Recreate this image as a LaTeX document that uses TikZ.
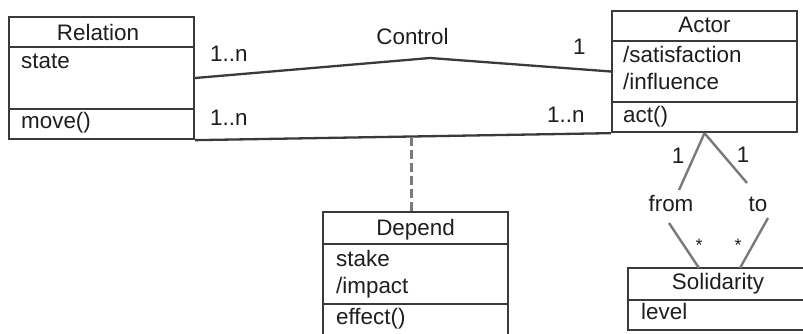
\documentclass[tikz,border=0pt]{standalone}
\usepackage{fontspec}
\setmainfont{Liberation Sans}
\usetikzlibrary{calc}
\definecolor{boxline}{HTML}{3A3A3A}
\definecolor{linkline}{HTML}{7A7A7A}
\definecolor{ink}{HTML}{1E1E1E}
\begin{document}
\begin{tikzpicture}[x=1pt,y=-1pt,
  umlbox/.style={draw=boxline,line width=2.3pt,rectangle,inner sep=0pt,minimum width=185pt},
  sepline/.style={draw=boxline,line width=2.3pt},
  assoc/.style={draw=boxline,line width=2.3pt},
  link/.style={draw=linkline,line width=2.4pt},
  txt/.style={inner sep=0pt,anchor=base west,text=ink,font=\fontsize{22.4}{26}\selectfont},
  ctxt/.style={inner sep=0pt,anchor=base,text=ink,font=\fontsize{22.4}{26}\selectfont},
  star/.style={inner sep=0pt,anchor=center,text=ink,font=\fontsize{18}{20}\selectfont}]
\clip (0,0) rectangle (803,334);
\fill[white] (0,0) rectangle (803,334);
% Relation
\node[umlbox,minimum height=122pt] (rel) at (101.5,78) {};
\draw[sepline] (9,47) -- (194,47);
\draw[sepline] (9,109) -- (194,109);
\node[ctxt] (relt) at (98,40.5) {Relation};
\node[txt] (rela) at (21,69) {state};
\node[txt] (relm) at (21,129) {move()};
% Actor
\node[umlbox,minimum height=121pt] (act) at (704.5,71.5) {};
\draw[sepline] (612,41) -- (797,41);
\draw[sepline] (612,102) -- (797,102);
\node[ctxt] (actt) at (704.5,32.5) {Actor};
\node[txt] (acta1) at (623,63) {/satisfaction};
\node[txt] (acta2) at (623,90) {/influence};
\node[txt] (actm) at (623,123) {act()};
% Depend
\node[umlbox,minimum height=130pt] (dep) at (415.5,277) {};
\draw[sepline] (323,244) -- (508,244);
\draw[sepline] (323,304) -- (508,304);
\node[ctxt] (dept) at (415.5,235) {Depend};
\node[txt] (depa1) at (336,266) {stake};
\node[txt] (depa2) at (336,293) {/impact};
\node[txt] (depm) at (336,324) {effect()};
% Solidarity
\node[umlbox,minimum width=185pt,minimum height=62pt] (sol) at (720.5,299) {};
\draw[sepline] (628,300) -- (813,300);
\node[ctxt] (solt) at (718,289) {Solidarity};
\node[txt] (sola) at (641,319) {level};
% Control association
\coordinate (peak) at (430,58);
\draw[assoc] (rel.east) -- (peak) -- (act.west);
\node[ctxt] (ctl) at (412.5,45) {Control};
\node[txt] (m1) at (210,62) {1..n};
\node[txt] (m2) at (573,55) {1};
% lower association
\draw[assoc] (rel.south east) -- (act.south west);
\node[txt] (m3) at (210,126) {1..n};
\node[txt] (m4) at (547,123) {1..n};
% Depend association class
\coordinate (mid) at ($(rel.south east)!0.52!(act.south west)$);
\draw[draw=linkline,line width=2.5pt,dash pattern=on 9pt off 4pt] (mid) -- (mid |- dep.north);
% Actor to Solidarity
\coordinate (fromA) at (679,190);
\coordinate (toA) at (747,183);
\coordinate (fromB) at (669,223);
\coordinate (toB) at (768,218);
\coordinate (fromS) at (699,268);
\coordinate (toS) at (740,268);
\draw[link] (act.south) -- (fromA);
\draw[link] (act.south) -- (toA);
\draw[link] (fromB) -- (fromS);
\draw[link] (toB) -- (toS);
\node[ctxt] (n1) at (678,164) {1};
\node[ctxt] (n2) at (743,163) {1};
\node[ctxt] (lfrom) at (671,211) {from};
\node[ctxt] (lto) at (758,211) {to};
\node[star] (s1) at (699,245) {*};
\node[star] (s2) at (738,245) {*};
\end{tikzpicture}
\end{document}
